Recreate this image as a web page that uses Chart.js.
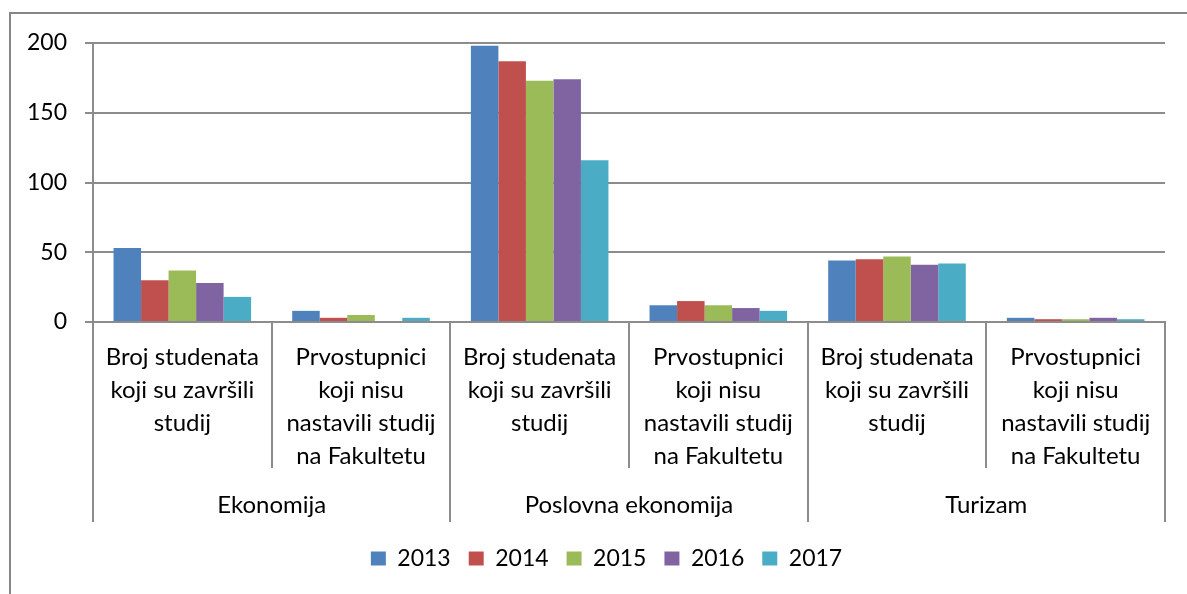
<!DOCTYPE html>
<html>
<head>
<meta charset="utf-8">
<script src="https://cdn.jsdelivr.net/npm/chart.js@4/dist/chart.umd.min.js"></script>
<style>
  html, body { margin: 0; padding: 0; background: #fff; }
  #wrap { position: relative; width: 1187px; height: 594px; }
</style>
</head>
<body>
<div id="wrap"><canvas id="gradChart" width="1187" height="594"></canvas></div>
<script>
const subLabels = [
    ["Broj studenata", "koji su završili", "studij"],
    ["Prvostupnici", "koji nisu", "nastavili studij", "na Fakultetu"],
    ["Broj studenata", "koji su završili", "studij"],
    ["Prvostupnici", "koji nisu", "nastavili studij", "na Fakultetu"],
    ["Broj studenata", "koji su završili", "studij"],
    ["Prvostupnici", "koji nisu", "nastavili studij", "na Fakultetu"]
];
const groupLabels = ["Ekonomija", "Poslovna ekonomija", "Turizam"];

const years = ["2013", "2014", "2015", "2016", "2017"];
const v2013 = [53, 8, 198, 12, 44, 3];
const v2014 = [30, 3, 187, 15, 45, 2];
const v2015 = [37, 5, 173, 12, 47, 2];
const v2016 = [28, 0, 174, 10, 41, 3];
const v2017 = [18, 3, 116, 8, 42, 2];

const yTicks = [0, 50, 100, 150, 200];

const colors = ["#4F81BD", "#C0504D", "#9BBB59", "#8064A2", "#4BACC6"];
const lineGray = "#8c8c8c";
const font = "Lato";

// frame around the chart and the category separators under the x axis
const separators = {
    id: "separators",
    afterDraw(chart) {
        const ctx = chart.ctx;
        const xs = chart.scales.x;
        const top = chart.chartArea.bottom;
        ctx.save();
        ctx.strokeStyle = lineGray;
        ctx.lineWidth = 2;
        for (let i = 0; i <= subLabels.length; i++) {
            const px = Math.round(xs.getPixelForValue(i - 0.5));
            const bottom = i % 2 === 0 ? 522 : 468;
            ctx.beginPath();
            ctx.moveTo(px, top);
            ctx.lineTo(px, bottom);
            ctx.stroke();
        }
        ctx.strokeStyle = "#868686";
        ctx.beginPath();
        ctx.moveTo(10, chart.height);
        ctx.lineTo(10, 13);
        ctx.lineTo(chart.width, 13);
        ctx.stroke();
        ctx.restore();
    }
};

function drawChart() {
    const values = [v2013, v2014, v2015, v2016, v2017];
    const ctx = document.getElementById("gradChart").getContext("2d");

    new Chart(ctx, {
        type: "bar",
        data: {
            labels: subLabels,
            datasets: years.map((y, i) => ({
                label: y,
                data: values[i],
                backgroundColor: colors[i],
                borderWidth: 0,
                barPercentage: 1,
                categoryPercentage: 0.77
            }))
        },
        options: {
            responsive: false,
            animation: false,
            layout: { padding: { top: 43, right: 0, bottom: 14, left: 26 } },
            plugins: {
                tooltip: { enabled: false },
                legend: {
                    position: "bottom",
                    labels: {
                        boxWidth: 15,
                        boxHeight: 14,
                        padding: 18,
                        color: "#000",
                        font: { family: font, size: 23 }
                    }
                }
            },
            scales: {
                y: {
                    min: 0,
                    max: 200,
                    afterFit: s => { s.width = 67; },
                    afterBuildTicks: s => { s.ticks = yTicks.map(v => ({ value: v })); },
                    grid: { color: lineGray, lineWidth: 2, tickLength: 8 },
                    border: { display: true, color: lineGray, width: 2 },
                    ticks: { padding: 18, color: "#000", font: { family: font, size: 23 } }
                },
                // empty right-hand spacer keeping the plot clear of the edge
                spacer: {
                    type: "linear",
                    position: "right",
                    afterFit: s => { s.width = 22; },
                    grid: { display: false },
                    border: { display: false },
                    ticks: { display: false }
                },
                x: {
                    offset: true,
                    afterFit: s => { s.height = 147; },
                    grid: { display: false, drawTicks: false },
                    border: { display: true, color: lineGray, width: 2 },
                    ticks: {
                        autoSkip: false,
                        maxRotation: 0,
                        padding: 19,
                        color: "#000",
                        font: { family: font, size: 24, lineHeight: 1.375 }
                    }
                },
                x2: {
                    type: "category",
                    position: "bottom",
                    labels: groupLabels,
                    offset: true,
                    afterFit: s => { s.height = 60; },
                    grid: { display: false, drawTicks: false },
                    border: { display: false },
                    ticks: {
                        autoSkip: false,
                        maxRotation: 0,
                        padding: 20,
                        color: "#000",
                        font: { family: font, size: 24, lineHeight: 1.375 }
                    }
                }
            }
        },
        plugins: [separators]
    });
}

document.fonts.load("24px " + font).then(drawChart, drawChart);
</script>
</body>
</html>
